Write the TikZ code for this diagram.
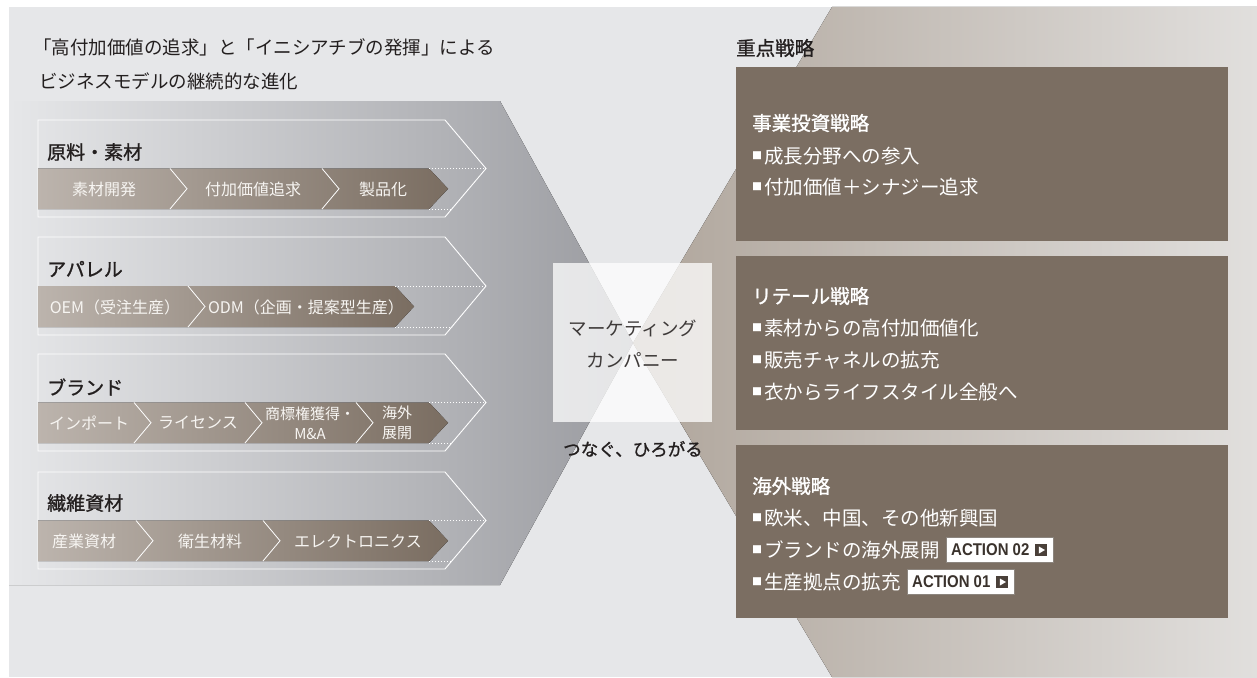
\documentclass[tikz,border=0pt]{standalone}
\usepackage{fontspec}
\setmainfont{Noto Sans CJK JP}
\newfontfamily\jpm[FakeBold=1.2]{Noto Sans CJK JP}
\newfontfamily\actfont[FakeStretch=0.88]{Liberation Sans}
\usetikzlibrary{positioning,calc}
\definecolor{bgc}{HTML}{E6E7E9}
\definecolor{grayR}{HTML}{9A9BA0}
\definecolor{tanL}{HTML}{AFA59B}
\definecolor{tanR}{HTML}{E1DFDD}
\definecolor{bandL}{HTML}{BCB4AD}
\definecolor{bandR}{HTML}{7A6D61}
\definecolor{brownbox}{HTML}{7B6E62}
\definecolor{txtc}{HTML}{231F1F}
\definecolor{ctrc}{HTML}{3E3A39}
\definecolor{badgetx}{HTML}{3A322C}
\definecolor{badgesq}{HTML}{4A4039}
\definecolor{badgeln}{HTML}{8C857E}
\definecolor{bandtx}{HTML}{F7F5F2}
\newcommand\fs[1]{\fontsize{#1}{#1}\selectfont}
\newcommand\bul{\raisebox{4pt}{\fs{10}■}\hspace{2pt}}
\tikzset{
  outline/.style={draw=white, line width=0.9pt},
  bandfill/.style={left color=bandL, right color=bandR, draw=none},
  sepline/.style={draw=white, line width=0.8pt},
  dotline/.style={draw=white, line width=0.8pt, dash pattern=on 1pt off 2pt},
  cattitle/.style={anchor=west, inner sep=0pt, text=txtc, font=\jpm\fs{19}},
  bandtxt/.style={inner sep=0pt, text=bandtx, font=\fs{16}},
  bandtwo/.style={inner sep=0pt, text=bandtx, align=center, font=\fontsize{15}{20}\selectfont},
  rbox/.style={fill=brownbox, draw=none},
  rhead/.style={anchor=west, inner sep=0pt, text=white, font=\jpm\fs{19.5}},
  rbul/.style={anchor=west, inner sep=0pt, text=white, font=\fs{19.5}},
  badge/.style={anchor=west, fill=white, draw=badgeln, line width=0.6pt, inner xsep=5pt, inner ysep=0pt,
     minimum height=25pt, text=badgetx, font=\actfont\bfseries\fs{17}},
  badgebox/.style={fill=badgesq, minimum size=12pt, inner sep=0pt},
  ctrtxt/.style={inner sep=0pt, text=ctrc, font=\fs{18.5}},
}
\newcommand\outerchev[2]{\draw[outline] (38,#1) -- (445,#1) -- (486,{(#1+#2)/2}) -- (445,#2) -- (38,#2) -- cycle;}
\newcommand\bandchev[3]{\fill[bandfill] (38,#1) -- (#3,#1) -- ({#3+19},{(#1+#2)/2}) -- (#3,#2) -- (38,#2) -- cycle;
  \draw[dotline] (#3,#1) -- (486,#1); \draw[dotline] (#3,#2) -- (452,#2);}
\newcommand\sepchev[3]{\draw[sepline] (#3,#1) -- ({#3+17},{(#1+#2)/2}) -- (#3,#2);}
\begin{document}
\begin{tikzpicture}[x=1pt,y=-1pt]
\useasboundingbox (0,0) rectangle (1257,677);
\fill[white] (0,0) rectangle (1257,677);
\fill[bgc] (9,7) rectangle (1257,677);
% big shapes
\fill[left color=bgc, right color=grayR] (9,101) -- (500,101) -- (633,343) -- (500,585) -- (9,585) -- cycle;
\fill[left color=tanL, right color=tanR] (832,7) -- (633,343) -- (832,677) -- (1257,677) -- (1257,7) -- cycle;
% titles
\node[anchor=west, inner sep=0pt, text=txtc, font=\fs{18.5}] (t1) at (33,47) {「高付加価値の追求」と「イニシアチブの発揮」による};
\node[anchor=west, inner sep=0pt, text=txtc, font=\fs{18.5}] (t2) at (39,81) {ビジネスモデルの継続的な進化};
% box 1
\outerchev{120}{217}
\bandchev{168.5}{209}{429}
\sepchev{168.5}{209}{170}
\sepchev{168.5}{209}{322}
\node[cattitle] (c1) at (47,152) {原料・素材};
\node[bandtxt] (b11) at (104,189) {素材開発};
\node[bandtxt] (b12) at (253,189) {付加価値追求};
\node[bandtxt] (b13) at (383,189) {製品化};
% box 2
\outerchev{237}{335}
\bandchev{286}{327}{395}
\sepchev{286}{327}{188}
\node[cattitle] (c2) at (47,269) {アパレル};
\node[bandtxt] (b21) at (115,307) {OEM（受注生産）};
\node[bandtxt] (b22) at (306,307) {ODM（企画・提案型生産）};
% box 3
\outerchev{354}{451}
\bandchev{402.5}{443}{429}
\sepchev{402.5}{443}{134}
\sepchev{402.5}{443}{245}
\sepchev{402.5}{443}{356}
\node[cattitle] (c3) at (47,387) {ブランド};
\node[bandtxt] (b31) at (89,423) {インポート};
\node[bandtxt] (b32) at (198,423) {ライセンス};
\node[bandtwo] (b33) at (310,423) {商標権獲得・\\M\&A};
\node[bandtwo] (b34) at (397,423) {海外\\展開};
% box 4
\outerchev{472}{569}
\bandchev{520.5}{561}{429}
\sepchev{520.5}{561}{136}
\sepchev{520.5}{561}{263}
\node[cattitle] (c4) at (47,503) {繊維資材};
\node[bandtxt] (b41) at (84,541) {産業資材};
\node[bandtxt] (b42) at (210,541) {衛生材料};
\node[bandtxt] (b43) at (358,541) {エレクトロニクス};
% center
\node[fill=white, fill opacity=0.75, draw=none, minimum width=159pt, minimum height=159pt, inner sep=0pt] (mc) at (632.5,342.5) {};
\node[ctrtxt] (m1) at (633,328) {マーケティング};
\node[ctrtxt] (m2) at (633,360) {カンパニー};
\node[inner sep=0pt, text=txtc, font=\jpm\fs{17.5}] (m3) at (633,449) {つなぐ、ひろがる};
% right
\node[anchor=west, inner sep=0pt, text=txtc, font=\jpm\fs{19.5}] (r0) at (736,48) {重点戦略};
\fill[rbox] (736,67) rectangle (1228,241);
\fill[rbox] (736,256) rectangle (1228,430);
\fill[rbox] (736,445) rectangle (1228,618);
\node[rhead] (h1) at (752,123) {事業投資戦略};
\node[rbul] (u11) at (752,156) {\bul 成長分野への参入};
\node[rbul] (u12) at (752,187) {\bul 付加価値＋シナジー追求};
\node[rhead] (h2) at (752,296) {リテール戦略};
\node[rbul] (u21) at (752,328) {\bul 素材からの高付加価値化};
\node[rbul] (u22) at (752,360) {\bul 販売チャネルの拡充};
\node[rbul] (u23) at (752,392) {\bul 衣からライフスタイル全般へ};
\node[rhead] (h3) at (752,486) {海外戦略};
\node[rbul] (u31) at (752,518) {\bul 欧米、中国、その他新興国};
\node[rbul] (u32) at (752,550) {\bul ブランドの海外展開};
\node[rbul] (u33) at (752,582) {\bul 生産拠点の拡充};
\node[badge] (a2) at ([xshift=6pt]u32.east) {ACTION 02\hspace*{19pt}\mbox{}};
\node[badgebox, anchor=east] (a2q) at ([xshift=-6pt]a2.east) {};
\fill[white] ([xshift=-2.5pt,yshift=3.5pt]a2q.center) -- ([xshift=3.5pt]a2q.center) -- ([xshift=-2.5pt,yshift=-3.5pt]a2q.center) -- cycle;
\node[badge] (a1) at ([xshift=6pt]u33.east) {ACTION 01\hspace*{19pt}\mbox{}};
\node[badgebox, anchor=east] (a1q) at ([xshift=-6pt]a1.east) {};
\fill[white] ([xshift=-2.5pt,yshift=3.5pt]a1q.center) -- ([xshift=3.5pt]a1q.center) -- ([xshift=-2.5pt,yshift=-3.5pt]a1q.center) -- cycle;
\end{tikzpicture}
\end{document}
